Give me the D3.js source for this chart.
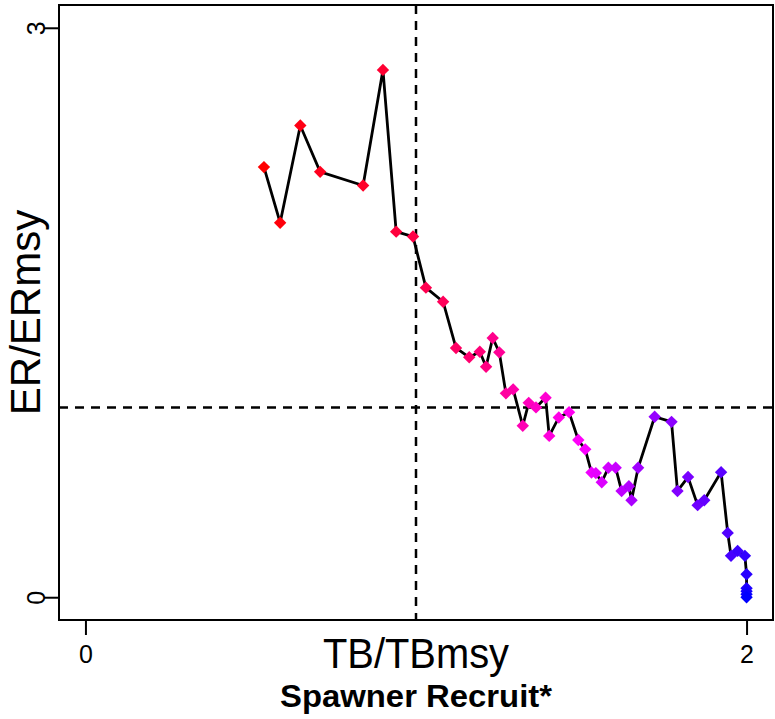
<!DOCTYPE html>
<html>
<head>
<meta charset="utf-8">
<script src="https://cdn.jsdelivr.net/npm/d3@7"></script>
<style>
  body { margin: 0; background: #fff; }
  text { font-family: "Liberation Sans", Arial, Helvetica, sans-serif; }
</style>
</head>
<body>
<script>
// TB/TBmsy (x) and ER/ERmsy (y), one pair per year
const tbRatio = [0.540, 0.589, 0.650, 0.710, 0.840, 0.900, 0.940, 0.991, 1.030, 1.082,
  1.121, 1.161, 1.193, 1.212, 1.232, 1.252, 1.272, 1.294, 1.323, 1.341,
  1.363, 1.392, 1.403, 1.432, 1.463, 1.491, 1.512, 1.531, 1.544, 1.562,
  1.582, 1.604, 1.622, 1.644, 1.652, 1.672, 1.722, 1.773, 1.791, 1.823,
  1.852, 1.872, 1.923, 1.943, 1.953, 1.973, 1.995, 2.0, 2.0, 2.0, 2.0, 2.0]
const erRatio = [2.266, 1.973, 2.485, 2.241, 2.169, 2.778, 1.926, 1.900, 1.631, 1.557,
  1.313, 1.264, 1.293, 1.214, 1.366, 1.290, 1.074, 1.095, 0.903, 1.024,
  1.000, 1.051, 0.850, 0.947, 0.975, 0.828, 0.779, 0.657, 0.654, 0.606,
  0.682, 0.682, 0.560, 0.585, 0.511, 0.682, 0.951, 0.924, 0.560, 0.633,
  0.485, 0.511, 0.659, 0.339, 0.218, 0.244, 0.218, 0.121, 0.047, 0.032, 0.016, 0.0]
const xTicks = [0, 2]
const yTicks = [0, 3]
const refLine = 1

const w = 775
const h = 719
const box = { left: 59, right: 773, top: 5, bottom: 620 }

const svg = d3.select("body").append("svg").attr("width", w).attr("height", h)

const xScale = d3.scaleLinear().domain([-0.08, 2.08]).range([box.left, box.right])
const yScale = d3.scaleLinear().domain([-0.12, 3.12]).range([box.bottom, box.top])

const n = tbRatio.length
const colScale = d3
  .scaleLinear()
  .domain([0, (n - 1) / 2, n - 1])
  .range(["#ff0000", "#ff00ff", "#0000ff"])

const pts = tbRatio.map((x, i) => ({ x: x, y: erRatio[i], i: i }))

// reference lines
svg.append("line")
  .attr("x1", xScale(refLine)).attr("x2", xScale(refLine))
  .attr("y1", box.top).attr("y2", box.bottom)
  .attr("stroke", "#000").attr("stroke-width", 2.5).attr("stroke-dasharray", "9,7")
svg.append("line")
  .attr("x1", box.left).attr("x2", box.right)
  .attr("y1", yScale(refLine)).attr("y2", yScale(refLine))
  .attr("stroke", "#000").attr("stroke-width", 2.5).attr("stroke-dasharray", "9,7")

// trajectory
const line = d3.line().x((d) => xScale(d.x)).y((d) => yScale(d.y))
svg.append("path")
  .datum(pts)
  .attr("d", line)
  .attr("fill", "none")
  .attr("stroke", "#000")
  .attr("stroke-width", 2.8)

const r = 6.2
svg.selectAll(".pt")
  .data(pts)
  .enter()
  .append("path")
  .attr("class", "pt")
  .attr("d", `M0,${-r}L${r},0L0,${r}L${-r},0Z`)
  .attr("transform", (d) => `translate(${xScale(d.x)},${yScale(d.y)})`)
  .attr("fill", (d) => colScale(d.i))

// box
svg.append("rect")
  .attr("x", box.left).attr("y", box.top)
  .attr("width", box.right - box.left).attr("height", box.bottom - box.top)
  .attr("fill", "none").attr("stroke", "#000").attr("stroke-width", 2)

// axes
const xAxis = svg.append("g")
  .attr("transform", `translate(0,${box.bottom})`)
  .call(d3.axisBottom(xScale).tickValues(xTicks).tickFormat(d3.format("d")).tickSize(15).tickPadding(10))
xAxis.select(".domain").remove()
xAxis.selectAll("line").attr("stroke-width", 2)
xAxis.selectAll("text").attr("font-size", 25).attr("fill", "#000")

const yAxis = svg.append("g")
  .attr("transform", `translate(${box.left},0)`)
  .call(d3.axisLeft(yScale).tickValues(yTicks).tickFormat(d3.format("d")).tickSize(15).tickPadding(9))
yAxis.select(".domain").remove()
yAxis.selectAll("line").attr("stroke-width", 2)
yAxis.selectAll("text")
  .attr("font-size", 25).attr("fill", "#000")
  .attr("x", null).attr("dy", null)
  .attr("text-anchor", "middle")
  .attr("transform", "translate(-14,0) rotate(-90)")

// labels
svg.append("text")
  .attr("x", (box.left + box.right) / 2).attr("y", 668)
  .attr("text-anchor", "middle").attr("font-size", 42)
  .attr("textLength", 186).attr("lengthAdjust", "spacingAndGlyphs")
  .text("TB/TBmsy")
svg.append("text")
  .attr("transform", `translate(40,${(box.top + box.bottom) / 2}) rotate(-90)`)
  .attr("text-anchor", "middle").attr("font-size", 42)
  .text("ER/ERmsy")
svg.append("text")
  .attr("x", 416).attr("y", 707)
  .attr("text-anchor", "middle").attr("font-size", 32).attr("font-weight", "bold")
  .attr("textLength", 272).attr("lengthAdjust", "spacingAndGlyphs")
  .text("Spawner Recruit*")
</script>
</body>
</html>
